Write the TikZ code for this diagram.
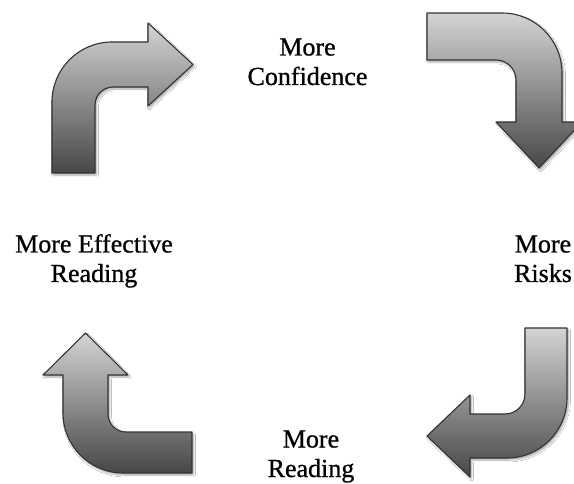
\documentclass[tikz,border=0pt]{standalone}
\usepackage{fontspec}
\setmainfont[FakeBold=0.8]{Liberation Serif}
\usepackage{tikz}
\usetikzlibrary{shadows.blur}

\begin{document}
\begin{tikzpicture}[x=1pt,y=1pt,
    bentarrow/.style={draw=black!80, line width=1.1pt, line join=round,
        top color=black!17, bottom color=black!72,
        blur shadow={shadow xshift=1.5pt, shadow yshift=-2pt, shadow opacity=35, shadow blur steps=8}},
    stage/.style={align=center, inner sep=0pt, font=\fontsize{26}{29.5}\selectfont}]
    \useasboundingbox[fill=white] (0,0) rectangle (574,-484);
    % up, then right
    \draw[bentarrow] (52,-173) -- (52,-102) arc[start angle=180, end angle=90, radius=60]
        -- (148,-42) -- (148,-23) -- (193,-64.5) -- (148,-106) -- (148,-87) -- (113,-87)
        arc[start angle=90, end angle=180, radius=18] -- (95,-173) -- cycle;
    % right, then down
    \draw[bentarrow] (427,-13) -- (502,-13) arc[start angle=90, end angle=0, radius=60]
        -- (562,-122) -- (582,-122) -- (539,-168) -- (496,-122) -- (516,-122) -- (516,-80)
        arc[start angle=0, end angle=90, radius=20] -- (427,-60) -- cycle;
    % down, then left
    \draw[bentarrow] (525,-328) -- (567,-328) -- (567,-398) arc[start angle=0, end angle=-90, radius=60]
        -- (470,-458) -- (470,-477) -- (427,-436) -- (470,-395) -- (470,-414) -- (505,-414)
        arc[start angle=-90, end angle=0, radius=20] -- cycle;
    % left, then up
    \draw[bentarrow] (192,-432) -- (126,-432) arc[start angle=-90, end angle=-180, radius=18]
        -- (108,-375) -- (128,-375) -- (85.5,-333) -- (43,-375) -- (63,-375) -- (63,-413)
        arc[start angle=180, end angle=270, radius=60] -- (192,-473) -- cycle;

    % base anchor sits on the last line
    \node[stage, anchor=base] (confidence) at (307.5,-85) {More\\Confidence};
    \node[stage, anchor=base] (risks) at (543,-282) {More\\Risks};
    \node[stage, anchor=base] (reading) at (311,-477) {More\\Reading};
    \node[stage, anchor=base] (effective) at (94,-282) {More Effective\\Reading};
\end{tikzpicture}
\end{document}
